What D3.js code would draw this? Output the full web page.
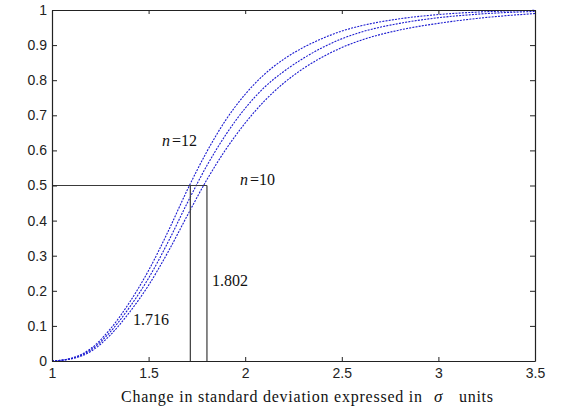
<!DOCTYPE html>
<html>
<head>
<meta charset="utf-8">
<script src="https://cdn.jsdelivr.net/npm/d3@7/dist/d3.min.js"></script>
<style>
  html, body { margin: 0; padding: 0; background: #fff; }
  svg { display: block; }
</style>
</head>
<body>
<svg id="chart" width="580" height="411"></svg>
<script>
// ---- data ----
const xs  = [1.0, 1.1, 1.2, 1.3, 1.4, 1.5, 1.6, 1.7, 1.8, 1.9, 2.0, 2.1, 2.2, 2.3, 2.4, 2.5, 2.6, 2.8, 3.0, 3.2, 3.5];
const n12 = [0, 0.008, 0.035, 0.090, 0.166, 0.258, 0.368, 0.487, 0.595, 0.687, 0.760, 0.817, 0.860, 0.893, 0.919, 0.940, 0.955, 0.975, 0.987, 0.994, 0.999];
const n11 = [0, 0.007, 0.031, 0.082, 0.152, 0.236, 0.338, 0.450, 0.555, 0.645, 0.720, 0.780, 0.825, 0.862, 0.893, 0.918, 0.937, 0.962, 0.978, 0.988, 0.996];
const n10 = [0, 0.006, 0.027, 0.073, 0.138, 0.216, 0.310, 0.414, 0.515, 0.603, 0.678, 0.741, 0.792, 0.833, 0.866, 0.893, 0.914, 0.943, 0.962, 0.976, 0.990];
const xTicks = [1, 1.5, 2, 2.5, 3, 3.5];
const xTickLabels = ["1", "1.5", "2", "2.5", "3", "3.5"];
const yTicks = [0, 0.1, 0.2, 0.3, 0.4, 0.5, 0.6, 0.7, 0.8, 0.9, 1];
const yTickLabels = ["0", "0.1", "0.2", "0.3", "0.4", "0.5", "0.6", "0.7", "0.8", "0.9", "1"];
const markLevel = 0.5;
const markX = [1.716, 1.802];
const markLabels = ["1.716", "1.802"];

// ---- layout ----
const svg = d3.select("#chart");
const L = 52, R = 535, T = 10, B = 361;
const x = d3.scaleLinear().domain([1, 3.5]).range([L, R]);
const y = d3.scaleLinear().domain([0, 1]).range([B, T]);

const tickFont = "Liberation Sans, Arial, sans-serif";
const serif = "Liberation Serif, DejaVu Serif, serif";

// curves
const line = d3.line().x(d => x(d[0])).y(d => y(d[1])).curve(d3.curveMonotoneX);
[n12, n11, n10].forEach(vals => {
  svg.append("path")
    .datum(xs.map((v, i) => [v, vals[i]]))
    .attr("d", line)
    .attr("fill", "none")
    .attr("stroke", "#1a1ad0")
    .attr("stroke-width", 1.1)
    .attr("stroke-dasharray", "2,1.2");
});

// reference lines
svg.append("path")
  .attr("d", `M${x(1)},${y(markLevel)}H${x(markX[1])}`)
  .attr("stroke", "#3a3a3a").attr("stroke-width", 1.2).attr("fill", "none");
markX.forEach(v => {
  svg.append("path")
    .attr("d", `M${x(v)},${y(0)}V${y(markLevel)}`)
    .attr("stroke", "#3a3a3a").attr("stroke-width", 1.2).attr("fill", "none");
});

// axes (MATLAB style, ticks inward, box)
const axB = d3.axisBottom(x).tickValues(xTicks).tickFormat((d, i) => xTickLabels[i]).tickSizeInner(-4).tickSizeOuter(0).tickPadding(7);
const axT = d3.axisTop(x).tickValues(xTicks).tickFormat("").tickSizeInner(-4).tickSizeOuter(0);
const axL = d3.axisLeft(y).tickValues(yTicks).tickFormat((d, i) => yTickLabels[i]).tickSizeInner(-5).tickSizeOuter(0).tickPadding(5);
const axR = d3.axisRight(y).tickValues(yTicks).tickFormat("").tickSizeInner(-5).tickSizeOuter(0);

function style(g) {
  g.selectAll(".domain").attr("stroke", "#222").attr("stroke-width", 1.2);
  g.selectAll(".tick line").attr("stroke", "#222").attr("stroke-width", 1);
  g.selectAll(".tick text").attr("fill", "#222").attr("font-family", tickFont).attr("font-size", 14);
}
svg.append("g").attr("transform", `translate(0,${B})`).call(axB).call(style);
svg.append("g").attr("transform", `translate(0,${T})`).call(axT).call(style);
svg.append("g").attr("transform", `translate(${L},0)`).call(axL).call(style);
svg.append("g").attr("transform", `translate(${R},0)`).call(axR).call(style);
svg.selectAll("g").attr("font-family", tickFont);

// annotations
function nLabel(px, py, num) {
  const t = svg.append("text").attr("x", px).attr("y", py)
    .attr("font-family", serif).attr("font-size", 16).attr("fill", "#111");
  t.append("tspan").attr("font-style", "italic").text("n");
  t.append("tspan").attr("dx", 2).text("=" + num);
}
nLabel(162, 146, "12");
nLabel(240, 185, "10");

svg.append("text").attr("x", 133).attr("y", 325)
  .attr("font-family", serif).attr("font-size", 16).attr("fill", "#111").text(markLabels[0]);
svg.append("text").attr("x", 212).attr("y", 286)
  .attr("font-family", serif).attr("font-size", 16).attr("fill", "#111").text(markLabels[1]);

// x axis title
svg.append("text").attr("x", 121).attr("y", 402)
  .attr("font-family", serif).attr("font-size", 16).attr("fill", "#111")
  .attr("textLength", 301).attr("lengthAdjust", "spacing")
  .text("Change in standard deviation expressed in");
svg.append("text").attr("x", 434).attr("y", 402)
  .attr("font-family", serif).attr("font-size", 17).attr("font-style", "italic").attr("fill", "#111")
  .text("σ");
svg.append("text").attr("x", 459).attr("y", 402)
  .attr("font-family", serif).attr("font-size", 16).attr("fill", "#111")
  .attr("textLength", 34).attr("lengthAdjust", "spacing")
  .text("units");
</script>
</body>
</html>
